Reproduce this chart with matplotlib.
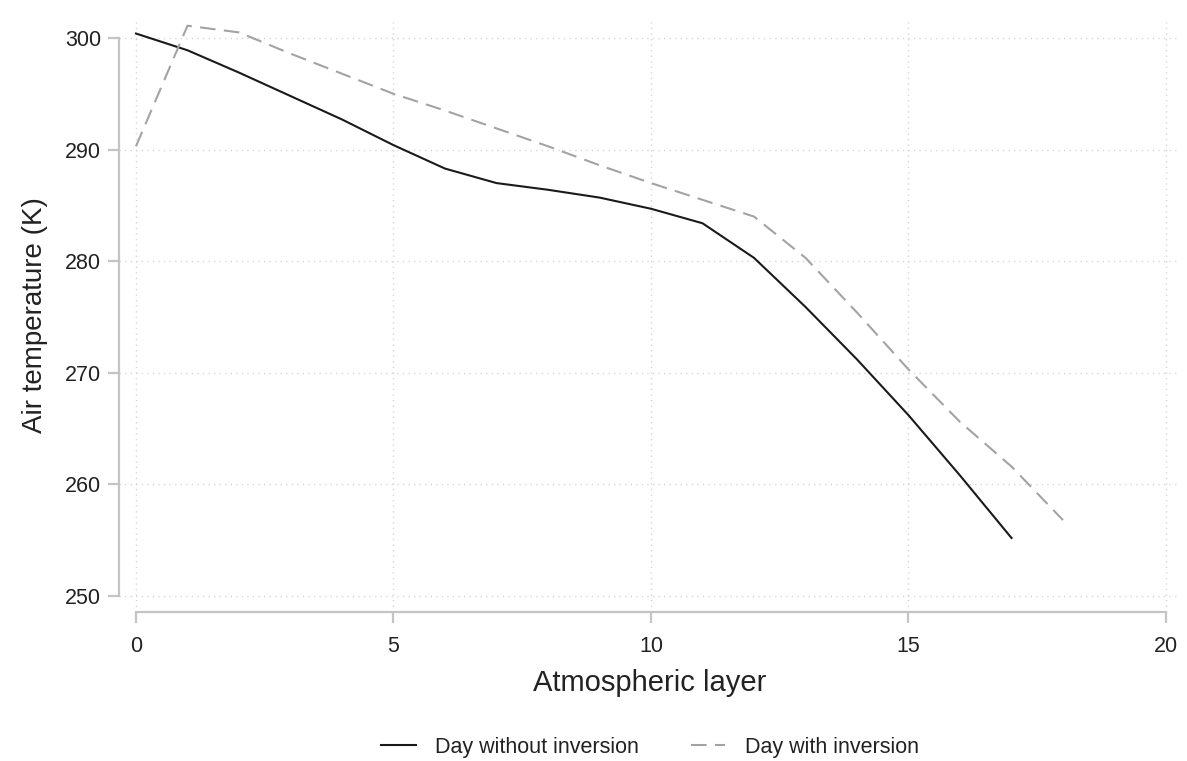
import matplotlib
matplotlib.use("Agg")
import matplotlib.pyplot as plt

plt.rcParams['font.family'] = ['Liberation Sans', 'DejaVu Sans']

layers_without = list(range(0, 18))
temp_without = [300.4, 298.9, 296.9, 294.8, 292.7, 290.4, 288.3, 287.0, 286.4,
                285.7, 284.7, 283.4, 280.3, 275.9, 271.2, 266.2, 260.8, 255.2]
layers_with = list(range(0, 19))
temp_with = [290.3, 301.1, 300.5, 298.6, 296.8, 295.0, 293.5, 291.9, 290.3,
             288.6, 287.0, 285.5, 284.0, 280.3, 275.4, 270.3, 265.6, 261.6, 256.8]

xticks = [0, 5, 10, 15, 20]
yticks = [250, 260, 270, 280, 290, 300]
label_without = "Day without inversion"
label_with = "Day with inversion"

W, H = 1187, 761
fig = plt.figure(figsize=(W / 100, H / 100), dpi=100)
ax = fig.add_axes([119 / W, 1 - 612 / H, (1180 - 119) / W, (612 - 18) / H])

ax.plot(layers_without, temp_without, color='#1a1a1a', lw=1.5, label=label_without,
        solid_joinstyle='round', zorder=3)
ax.plot(layers_with, temp_with, color='#a3a3a3', lw=1.5, dashes=(7.5, 4),
        label=label_with, zorder=3)

ax.set_xlim(0 - 17 * 20 / 1030, 20 + 14 * 20 / 1030)
ax.set_ylim(250 - 16 * 50 / 558, 300 + 20 * 50 / 558)
ax.set_xticks(xticks)
ax.set_yticks(yticks)

gridc = '#d6d6d6'
ax.grid(True, color=gridc, linestyle=(0, (1, 3)), linewidth=1.0)
ax.set_axisbelow(True)

for s in ['top', 'right']:
    ax.spines[s].set_visible(False)
spc = '#c4c4c4'
for s in ['left', 'bottom']:
    ax.spines[s].set_color(spc)
    ax.spines[s].set_linewidth(1.6)
ax.spines['left'].set_bounds(250, 300)
ax.spines['bottom'].set_bounds(0, 20)

ax.tick_params(axis='both', colors=spc, length=8, width=1.6, labelsize=15.5,
               labelcolor='#222222')
ax.tick_params(axis='y', pad=5)
ax.tick_params(axis='x', pad=9)

ax.set_xlabel("Atmospheric layer", fontsize=21, color='#222222', labelpad=9)
ax.set_ylabel("Air temperature (K)", fontsize=20, color='#222222', labelpad=12)

fig.legend(loc='center', bbox_to_anchor=(650 / W, 1 - 747 / H), ncol=2,
           frameon=False, fontsize=15.5, handlelength=1.6, handletextpad=0.9,
           columnspacing=2.4, labelcolor='#222222')

fig.savefig("out.png", dpi=100)
